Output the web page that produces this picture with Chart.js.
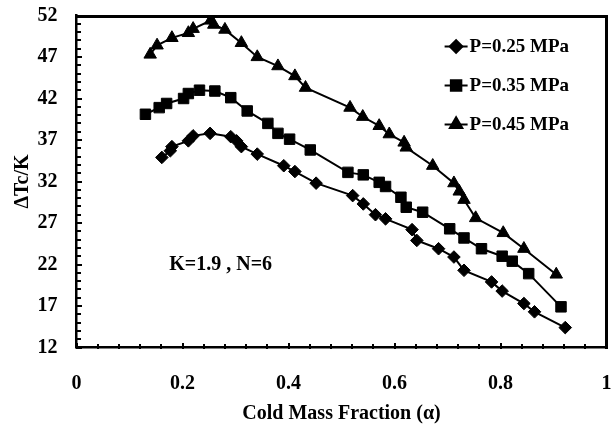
<!DOCTYPE html>
<html>
<head>
<meta charset="utf-8">
<script src="https://cdn.jsdelivr.net/npm/chart.js@4/dist/chart.umd.min.js"></script>
<style>
html,body{margin:0;padding:0;background:#fff;}
#wrap{width:615px;height:429px;}
</style>
</head>
<body>
<div id="wrap"><canvas id="c" width="615" height="429"></canvas></div>
<script>
// ---- data ----
const seriesNames = ['P=0.25 MPa', 'P=0.35 MPa', 'P=0.45 MPa'];

const alpha025 = [0.161,0.177,0.18,0.211,0.22,0.252,0.291,0.302,0.311,0.341,0.391,0.412,0.452,0.521,0.541,0.564,0.583,0.633,0.642,0.683,0.712,0.731,0.783,0.803,0.844,0.864,0.922];
const dT025    = [34.9,35.7,36.2,36.9,37.5,37.8,37.4,36.9,36.2,35.3,33.9,33.2,31.8,30.3,29.3,28.0,27.5,26.2,24.9,23.9,22.9,21.3,19.9,18.8,17.3,16.3,14.4];

const alpha035 = [0.13,0.156,0.17,0.202,0.211,0.232,0.261,0.291,0.322,0.361,0.38,0.402,0.441,0.512,0.541,0.571,0.583,0.612,0.622,0.653,0.704,0.731,0.764,0.803,0.822,0.853,0.914];
const dT035    = [40.1,40.9,41.4,42.0,42.6,43.0,42.9,42.1,40.5,39.0,37.8,37.1,35.8,33.1,32.8,31.9,31.4,30.1,28.9,28.3,26.3,25.2,23.9,23.0,22.4,20.9,16.9];

const alpha045 = [0.139,0.152,0.18,0.211,0.22,0.253,0.259,0.28,0.311,0.341,0.38,0.412,0.432,0.516,0.54,0.571,0.59,0.618,0.622,0.672,0.712,0.722,0.731,0.753,0.805,0.844,0.905];
const dT045    = [47.3,48.4,49.3,49.9,50.4,51.4,50.9,50.3,48.7,47.0,45.9,44.7,43.3,40.9,39.8,38.7,37.7,36.7,36.1,33.9,31.8,30.8,29.8,27.6,25.8,23.9,20.8];

const xTickLabels = ['0','0.2','0.4','0.6','0.8','1'];
const yTickLabels = ['12','17','22','27','32','37','42','47','52'];

const xTitle = 'Cold Mass Fraction (\u03b1)';
const yTitle = '\u0394Tc/K';
const noteText = 'K=1.9 , N=6';
const noteX = 0.272;
const noteY = 22;

// ---- chart ----
const FONT = "'Liberation Serif', 'Times New Roman', serif";
const toPts = (xs, ys) => xs.map((x, i) => ({x: x, y: ys[i]}));
const styles = ['rectRot', 'rect', 'triangle'];
const radii = [6.3, 7.4, 7.2];
const allX = [alpha025, alpha035, alpha045];
const allY = [dT025, dT035, dT045];

const datasets = seriesNames.map((name, i) => ({
  label: name,
  data: toPts(allX[i], allY[i]),
  borderColor: '#000',
  backgroundColor: '#000',
  borderWidth: 2,
  pointStyle: styles[i],
  pointRadius: radii[i],
  pointBorderWidth: 1,
  pointBackgroundColor: '#000',
  pointBorderColor: '#000',
  showLine: true,
  tension: 0
}));

const framePlugin = {
  id: 'frame',
  afterDraw(chart) {
    const ctx = chart.ctx;
    const a = chart.chartArea;
    const sx = chart.scales.x, sy = chart.scales.y;
    ctx.save();
    ctx.fillStyle = '#000';
    const L = Math.round(a.left) - 1, R = Math.round(a.right) - 1;
    const T = Math.round(a.top) - 1, B = Math.round(a.bottom) - 1;
    // top and right edges of the frame
    ctx.fillRect(L, T, R - L + 2, 3);
    ctx.fillRect(R - 1, T, 3, B - T + 2);
    // inside ticks
    for (let v = 12; v <= 52; v += 1) {
      const y = Math.round(sy.getPixelForValue(v));
      const len = ((v - 12) % 5 === 0) ? 6 : 5;
      ctx.fillRect(L, y - 1, len, 2);
    }
    for (let k = 0; k <= 25; k++) {
      const x = Math.round(sx.getPixelForValue(k * 0.04));
      const len = (k % 5 === 0) ? 6 : 5;
      ctx.fillRect(x - 1, B + 2 - len, 2, len);
    }
    // annotation
    ctx.font = "bold 20px " + FONT;
    ctx.textAlign = 'center';
    ctx.textBaseline = 'middle';
    ctx.fillText(noteText, sx.getPixelForValue(noteX), sy.getPixelForValue(noteY));
    // legend
    ctx.font = "bold 19px " + FONT;
    ctx.textAlign = 'left';
    chart.data.datasets.forEach((ds, i) => {
      const y = a.top + 31 + i * 39;
      const x0 = a.right - 162, x1 = a.right - 139;
      ctx.strokeStyle = '#000';
      ctx.lineWidth = 2;
      ctx.beginPath(); ctx.moveTo(x0, y); ctx.lineTo(x1, y); ctx.stroke();
      ctx.fillStyle = '#000';
      Chart.helpers.drawPoint(ctx, {pointStyle: ds.pointStyle, radius: ds.pointRadius, rotation: 0, borderWidth: 1}, (x0 + x1) / 2, y);
      ctx.fillStyle = '#000';
      ctx.fillText(ds.label, a.right - 137, y + 1);
    });
    ctx.restore();
  }
};

const zeroPad = s => { s.paddingTop = 0; s.paddingBottom = 0; s.paddingLeft = 0; s.paddingRight = 0; };

new Chart(document.getElementById('c'), {
  type: 'scatter',
  data: { datasets: datasets },
  options: {
    responsive: false,
    devicePixelRatio: 1,
    animation: false,
    layout: { padding: { top: 15.5, right: 6, left: 0, bottom: 0 } },
    plugins: { legend: { display: false }, tooltip: { enabled: false } },
    scales: {
      x: {
        type: 'linear', min: 0, max: 1,
        grid: { display: false, drawTicks: false },
        border: { display: true, color: '#000', width: 2.5 },
        ticks: {
          stepSize: 0.2, padding: 24, color: '#000', maxRotation: 0,
          font: { family: FONT, size: 20, weight: 'bold' },
          callback: (v, i) => xTickLabels[i]
        },
        title: { display: true, text: xTitle, color: '#000',
          font: { family: FONT, size: 20, weight: 'bold' }, padding: { top: 0, bottom: 3 } },
        afterFit: s => { s.height = 81.5; zeroPad(s); }
      },
      y: {
        type: 'linear', min: 12, max: 52,
        grid: { display: false, drawTicks: false },
        border: { display: true, color: '#000', width: 2.5 },
        ticks: {
          stepSize: 5, padding: 19, color: '#000',
          font: { family: FONT, size: 20, weight: 'bold' },
          callback: (v, i) => yTickLabels[i]
        },
        title: { display: true, text: yTitle, color: '#000',
          font: { family: FONT, size: 20, weight: 'bold' }, padding: { top: 11, bottom: 0 } },
        afterFit: s => { s.width = 76.5; zeroPad(s); }
      }
    }
  },
  plugins: [framePlugin]
});
</script>
</body>
</html>
